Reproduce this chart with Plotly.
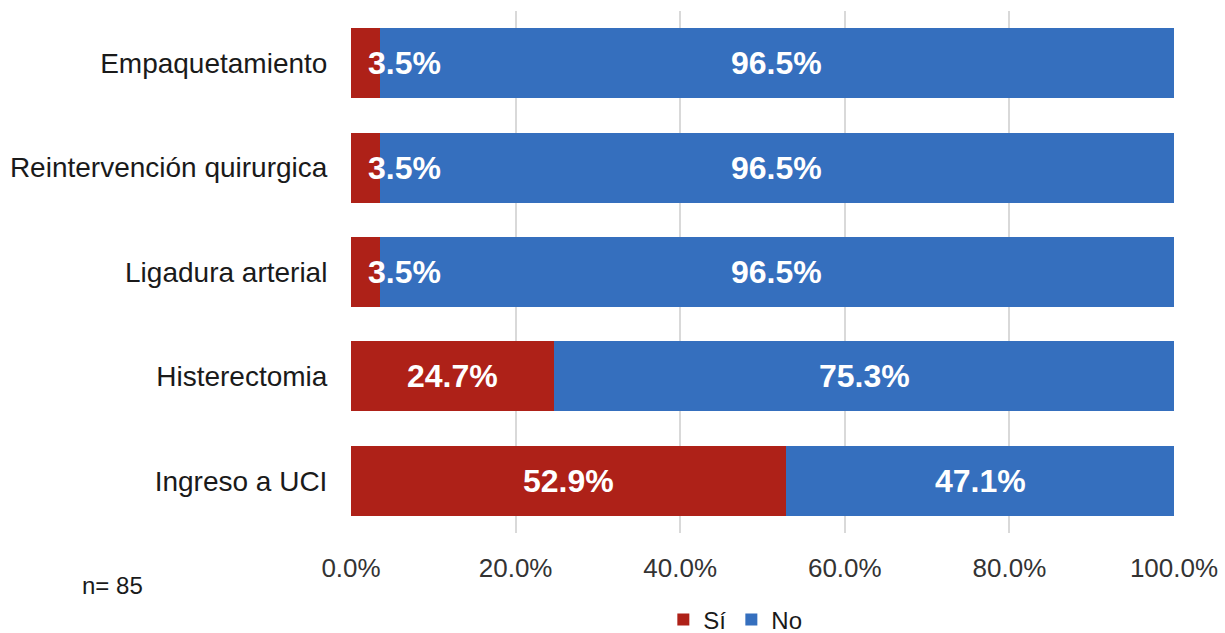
import plotly.graph_objects as go

categories = ["Ingreso a UCI", "Histerectomia", "Ligadura arterial",
              "Reintervención quirurgica", "Empaquetamiento"]
si_values = [52.9, 24.7, 3.5, 3.5, 3.5]
no_values = [47.1, 75.3, 96.5, 96.5, 96.5]
tick_values = [0, 20, 40, 60, 80, 100]
tick_labels = ["0.0%", "20.0%", "40.0%", "60.0%", "80.0%", "100.0%"]

RED = "#AE2118"
BLUE = "#356FBE"
FONT = "Liberation Sans, Arial, sans-serif"
LABEL_FONT = dict(family=FONT, size=32, color="white", weight="bold")

# plot area in pixels
W, H = 1225, 633
L, R, T, B = 351, 51, 11, 100
PW, PH = W - L - R, H - T - B

fig = go.Figure()
fig.add_trace(go.Bar(y=categories, x=si_values, name="Sí", orientation="h",
                     marker=dict(color=RED, line=dict(width=0))))
fig.add_trace(go.Bar(y=categories, x=no_values, name="No", orientation="h",
                     marker=dict(color=BLUE, line=dict(width=0))))

# value labels on each segment; narrow segments get a left-anchored label
annotations = []
for cat, s, n in zip(categories, si_values, no_values):
    if s < 10:
        annotations.append(dict(x=s * 0.52, y=cat, text=f"{s:.1f}%", xanchor="left",
                                showarrow=False, font=LABEL_FONT))
    else:
        annotations.append(dict(x=s / 2, y=cat, text=f"{s:.1f}%", showarrow=False,
                                font=LABEL_FONT))
    annotations.append(dict(x=s + n / 2, y=cat, text=f"{n:.1f}%", showarrow=False,
                            font=LABEL_FONT))

# sample size note, bottom left
annotations.append(dict(x=(80 - L) / PW, y=((H - B) - 585) / PH, xref="paper", yref="paper",
                        text="n= 85", showarrow=False, xanchor="left", yanchor="middle",
                        font=dict(family=FONT, size=24, color="#1a1a1a")))

fig.update_layout(
    barmode="stack",
    bargap=0.33,
    width=W, height=H,
    margin=dict(l=L, r=R, t=T, b=B, autoexpand=False),
    paper_bgcolor="white", plot_bgcolor="white",
    font=dict(family=FONT, size=25, color="#1a1a1a"),
    showlegend=True,
    legend=dict(orientation="h", x=0.467, xanchor="center",
                yref="container", y=1 - 620 / H, yanchor="middle",
                font=dict(family=FONT, size=24, color="#1a1a1a"),
                itemwidth=30, traceorder="normal"),
    xaxis=dict(range=[0, 100], tickvals=tick_values, ticktext=tick_labels,
               showgrid=True, gridcolor="#D9D9D9", gridwidth=1.5,
               zeroline=False, showline=False, ticks="outside", ticklen=12,
               tickcolor="white", automargin=False,
               tickfont=dict(size=26, color="#333333")),
    yaxis=dict(showgrid=False, zeroline=False, showline=False, ticks="outside",
               ticklen=17, tickcolor="white", automargin=False,
               tickfont=dict(size=28, color="#1a1a1a")),
    annotations=annotations,
)

fig.write_html("out.html")
